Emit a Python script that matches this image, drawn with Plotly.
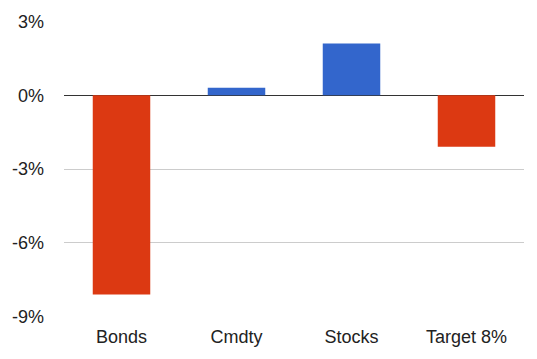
import plotly.graph_objects as go

categories = ["Bonds", "Cmdty", "Stocks", "Target 8%"]
values = [-8.1, 0.3, 2.1, -2.1]
tick_vals = [3, 0, -3, -6, -9]
tick_text = ["3%", "0%", "-3%", "-6%", "-9%"]

RED = "#DC3912"
BLUE = "#3366CC"
colors = [BLUE if v >= 0 else RED for v in values]

fig = go.Figure(go.Bar(x=categories, y=values, marker=dict(color=colors, line=dict(width=0))))

fig.update_layout(
    width=537, height=359,
    margin=dict(l=62, r=13, t=20, b=40),
    paper_bgcolor="white", plot_bgcolor="white",
    bargap=0.5,
    showlegend=False,
    font=dict(family="Arial, Liberation Sans, sans-serif", size=18, color="#222222"),
)
fig.update_yaxes(
    range=[-9.02, 3.02], tickvals=tick_vals, ticktext=tick_text,
    showgrid=True, gridcolor="#cccccc", gridwidth=1,
    zeroline=True, zerolinecolor="#333333", zerolinewidth=1.5,
    ticklabelstandoff=19, fixedrange=True,
)
fig.update_xaxes(showgrid=False, showline=False, ticks="", ticklabelstandoff=7, fixedrange=True)

fig.write_html(
    "out.html",
    config={"displayModeBar": False, "staticPlot": True},
    post_script="document.body.style.margin='0';document.body.style.overflow='hidden';",
)
